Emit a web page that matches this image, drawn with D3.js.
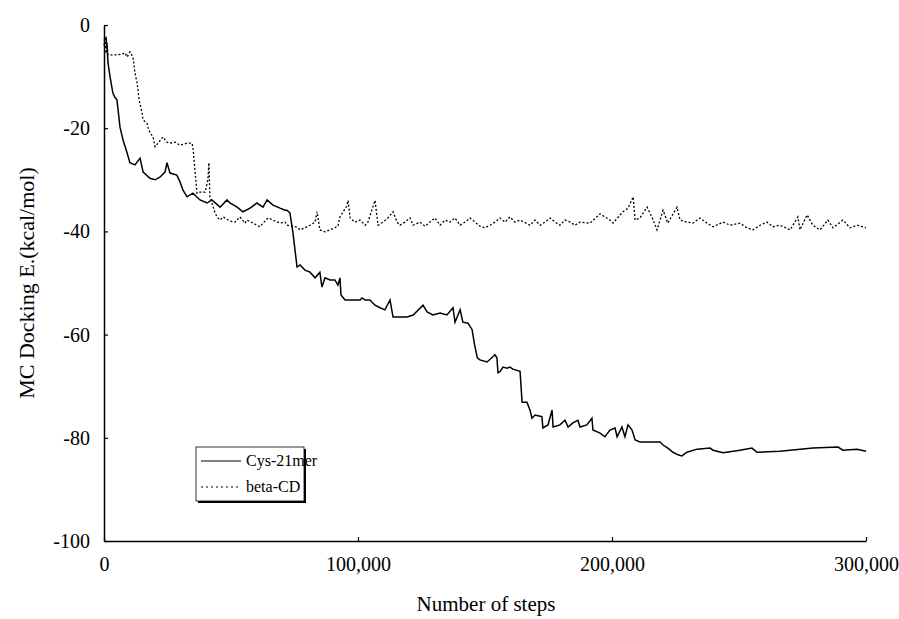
<!DOCTYPE html>
<html><head><meta charset="utf-8">
<script src="https://cdn.jsdelivr.net/npm/d3@7"></script>
<style>body{margin:0;background:#fff}svg{display:block}svg text{font-family:"Liberation Serif","Times New Roman",Times,serif !important;fill:#000}</style>
</head><body>
<svg id="c" width="899" height="619"></svg>
<script>
const cysSteps = [0,800,1200,1600,2400,3500,4300,5100,6300,7500,9100,10200,12200,14200,15400,18100,20100,22000,24000,24800,26000,28700,29900,31100,32700,35000,37800,40600,42500,45700,48400,49600,52400,54700,57500,60200,62600,64200,66500,69300,71300,72000,73200,74400,76000,77200,79100,81100,83100,85000,85800,87000,89000,90900,92100,92900,93300,94900,100800,101600,102800,104700,106700,108700,110600,112600,113800,116500,119300,121700,125600,127200,129500,132300,135000,137400,138200,140200,141300,143300,144900,145900,147000,148000,150800,153100,153900,154700,155100,155900,157100,158700,159800,161000,163800,164600,166500,167700,168500,169700,172400,172800,174800,176400,176800,179500,181500,182700,184600,186600,187400,190100,192100,192500,195300,197200,199200,201200,202000,203900,205100,206300,207900,209100,211000,218900,220100,222000,224000,226000,227500,229500,233500,238600,239800,243700,250400,255100,257100,266100,279100,289000,290900,296500,300000];
const cysValues = [-3,-2.5,-4.3,-7.4,-10.1,-13.2,-14,-14.5,-19.8,-22.3,-24.8,-26.7,-27.1,-25.8,-28.5,-29.7,-30,-29.5,-28.5,-26.7,-28.7,-29.1,-30.4,-32,-33.3,-32.6,-33.9,-34.5,-33.9,-35.3,-33.9,-34.5,-35.3,-36.2,-35.5,-34.5,-35.3,-33.9,-34.9,-35.5,-35.9,-35.9,-36.4,-40.3,-46.9,-46.5,-47.5,-47.9,-49,-47.9,-50.8,-49,-49.4,-49.4,-50.4,-49,-52.3,-53.3,-53.3,-52.9,-53.3,-53.3,-54.3,-54.8,-55.2,-53.3,-56.6,-56.6,-56.6,-56.2,-54.3,-55.6,-56.2,-55.8,-56.2,-54.8,-57.6,-55.2,-57.6,-57.8,-59,-62,-64.5,-64.9,-65.3,-64.3,-63.9,-64.5,-67.4,-67.2,-66.3,-66.5,-66.3,-66.7,-67.1,-73.1,-73.1,-74.6,-76.2,-75.6,-75.9,-78.1,-77.5,-74.6,-77.9,-77.5,-76.6,-77.9,-77.1,-76.6,-77.9,-77.5,-76.2,-78.5,-79.1,-79.8,-78.5,-78.1,-79.8,-77.9,-79.8,-77.5,-78.5,-80.4,-80.8,-80.8,-81.4,-82,-82.8,-83.3,-83.5,-82.8,-82.2,-82,-82.4,-82.9,-82.4,-82,-82.8,-82.6,-82,-81.8,-82.4,-82.2,-82.6];

const betaSteps = [0,400,800,1200,1600,5000,7500,8300,9100,10200,11400,12200,13000,13400,13800,15000,15400,16900,17300,18100,19300,20100,21300,23200,24800,26000,28000,29900,32700,34600,35000,36600,37800,39800,40900,41300,41700,42500,43700,44500,45700,46900,49600,51600,53500,55500,56300,58700,61400,62600,64600,66500,69300,71300,72000,74400,76000,77200,79100,81100,83100,83900,85000,87000,89000,92100,92900,95700,96100,96900,98800,100800,102800,103900,106700,107900,109800,111800,113800,115400,116500,118500,120500,121700,124400,126400,128300,130300,132300,134300,136200,138200,140200,142100,144100,146100,148000,150000,152000,153900,155900,157900,159800,161800,163800,167700,169700,171700,173600,175600,177600,179500,181500,183500,185400,187400,191300,195300,199200,200400,204300,206300,208300,209100,211000,213800,215700,217700,220100,222000,225600,226800,229500,231900,234600,237400,239800,243700,246500,250400,253100,255500,258300,261000,263400,266100,270100,273200,274000,276800,279100,281900,285000,287000,290900,293700,296500,300000];
const betaValues = [-4,-2.5,-5.5,-3.5,-5.8,-5.8,-5.6,-5.4,-6.2,-5.2,-6.2,-9.3,-11.2,-12.6,-14.5,-17.1,-18.4,-19,-19.8,-20.9,-21.7,-23.6,-22.9,-21.7,-22.7,-22.9,-22.7,-23.3,-22.9,-22.9,-23.6,-32.6,-32.4,-32.4,-30,-26.7,-33.3,-34.5,-36.4,-37.2,-37.8,-37.2,-38,-38.2,-37.2,-38.4,-37.8,-38.4,-39.1,-38.4,-37.4,-37.8,-38.4,-38.2,-38.8,-39,-39.2,-39.7,-39.3,-38.8,-38.2,-36.2,-39.7,-40.1,-39.7,-39,-37.2,-35,-34,-37.4,-38.2,-37.8,-38.8,-38.2,-34,-38.8,-38.2,-37.4,-36.2,-38.2,-38.8,-38.2,-37.4,-38.8,-38.2,-39,-38.2,-37.4,-38.8,-37.8,-38.2,-37.4,-38.8,-38.2,-37.4,-38.2,-39,-39.3,-38.8,-38.2,-37.4,-38.2,-37.2,-38.2,-37.8,-38.8,-37.8,-38.8,-38.2,-37.4,-38.2,-38.8,-37.8,-38.2,-38.8,-38.2,-38.4,-36.6,-37.8,-38.4,-36.2,-35.5,-33.3,-37.8,-37.4,-35.3,-37.2,-39.7,-35.9,-38.4,-35.3,-37.8,-38.2,-38.4,-37.4,-38.4,-39.1,-38.2,-38.8,-38.4,-39.3,-39.7,-38.8,-38.2,-39.1,-38.8,-39.7,-37.2,-39.7,-36.8,-38.8,-39.7,-37.8,-39.3,-37.8,-39.3,-38.8,-39.3];

const xTicks = [0,100000,200000,300000];
const xTickLabels = ["0","100,000","200,000","300,000"];
const yTicks = [0,-20,-40,-60,-80,-100];
const seriesNames = ["Cys-21mer","beta-CD"];

const svg = d3.select("#c");
const x = d3.scaleLinear().domain([0,300000]).range([104,866]);
const y = d3.scaleLinear().domain([-100,0]).range([541,25]);

const xAxis = d3.axisBottom(x).tickValues(xTicks).tickSizeInner(-4).tickSizeOuter(0).tickPadding(16)
  .tickFormat((d,i)=>xTickLabels[i]);
const gx = svg.append("g").attr("transform","translate(0,541)").call(xAxis);
const yAxis = d3.axisLeft(y).tickValues(yTicks).tickSizeInner(-4).tickSizeOuter(0).tickPadding(14).tickFormat(d=>String(d));
const gy = svg.append("g").attr("transform","translate(104,0)").call(yAxis);
[gx,gy].forEach(g=>{
  g.attr("font-family",null);
  g.select(".domain").attr("stroke","#000").attr("stroke-width",1.5);
  g.selectAll(".tick line").attr("stroke","#000").attr("stroke-width",1.2);
  g.selectAll("text").attr("font-size",20).attr("fill","#000");
});

const line = d3.line().x(d=>x(d[0])).y(d=>y(d[1]));
svg.append("path").datum(betaSteps.map((s,i)=>[s,betaValues[i]]))
  .attr("d",line).attr("fill","none").attr("stroke","#000").attr("stroke-width",1.3).attr("stroke-dasharray","2,2");
svg.append("path").datum(cysSteps.map((s,i)=>[s,cysValues[i]]))
  .attr("d",line).attr("fill","none").attr("stroke","#000").attr("stroke-width",1.5);

svg.append("text").attr("transform","translate(34,283) rotate(-90)").attr("text-anchor","middle")
  .attr("font-size",22).text("MC Docking E.(kcal/mol)");
svg.append("text").attr("x",486).attr("y",611).attr("text-anchor","middle")
  .attr("font-size",21).text("Number of steps");

// legend
const lg = svg.append("g");
lg.append("rect").attr("x",198).attr("y",449).attr("width",108).attr("height",54).attr("fill","#000");
lg.append("rect").attr("x",196).attr("y",447).attr("width",108).attr("height",54).attr("fill","#fff").attr("stroke","#000").attr("stroke-width",0.8);
seriesNames.forEach((n,i)=>{
  const yy = 461 + i*26;
  lg.append("line").attr("x1",201).attr("x2",241).attr("y1",yy).attr("y2",yy).attr("stroke","#000")
    .attr("stroke-width",1.2).attr("stroke-dasharray",i===1?"2,3":null);
  lg.append("text").attr("x",246).attr("y",yy+5).attr("font-size",16).text(n);
});
</script>
</body></html>
